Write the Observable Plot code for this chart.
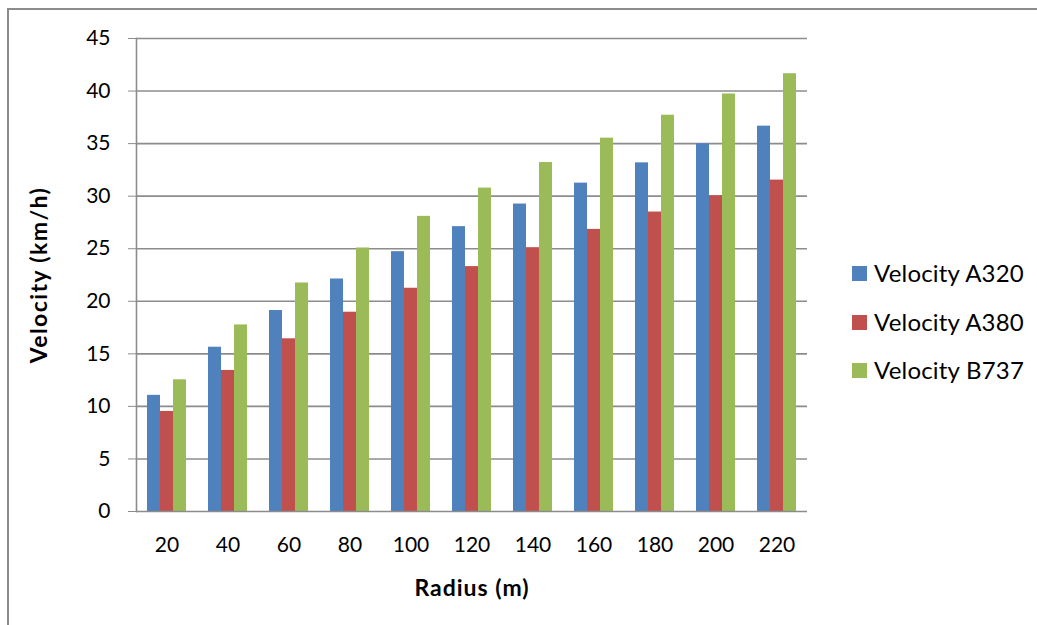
<!DOCTYPE html>
<html>
<head>
<meta charset="utf-8">
<script src="https://cdn.jsdelivr.net/npm/d3@7"></script>
<script src="https://cdn.jsdelivr.net/npm/@observablehq/plot@0.6"></script>
<style>
  html, body { margin: 0; padding: 0; background: #fff; overflow: hidden; }
  #wrap { position: relative; width: 1037px; height: 625px; font-family: Lato, "DejaVu Sans", sans-serif; }
  #border { position: absolute; left: 7px; top: 8px; right: -10px; bottom: -10px; border-top: 2px solid #8c8c8c; border-left: 2px solid #8c8c8c; pointer-events: none; }
  #legend { position: absolute; left: 852px; top: 0; }
  .item { position: absolute; left: 0; white-space: nowrap; font-size: 24px; letter-spacing: 0.2px; color: #000; }
  .sw { position: absolute; left: 0; width: 15px; height: 15px; }
  .lbl { position: absolute; left: 22px; line-height: 1; }
  g[aria-label="y-axis label"] text { font-weight: bold; font-size: 23px; letter-spacing: 1.4px; }
  g[aria-label="fx-axis label"] text { font-weight: bold; font-size: 23px; letter-spacing: 1px; }
</style>
</head>
<body>
<div id="wrap"></div>
<script>
const radii = [20, 40, 60, 80, 100, 120, 140, 160, 180, 200, 220];
const series = ["Velocity A320", "Velocity A380", "Velocity B737"];
const velA320 = [11.05, 15.63, 19.12, 22.12, 24.72, 27.1, 29.25, 31.24, 33.17, 34.98, 36.66];
const velA380 = [9.52, 13.42, 16.43, 18.96, 21.24, 23.3, 25.1, 26.84, 28.49, 30.04, 31.53];
const velB737 = [12.53, 17.75, 21.74, 25.07, 28.08, 30.77, 33.2, 35.52, 37.7, 39.72, 41.65];
const colors = ["#4F81BD", "#C0504D", "#9BBB59"];
const yTicks = [0, 5, 10, 15, 20, 25, 30, 35, 40, 45];

const seriesValues = [velA320, velA380, velB737];
const data = [];
radii.forEach((r, i) => {
  series.forEach((s, j) => data.push({radius: r, series: s, value: seriesValues[j][i]}));
});

const grid = "#8c8c8c";
const chart = Plot.plot({
  width: 1037,
  height: 625,
  marginLeft: 133,
  marginRight: 227,
  marginTop: 38,
  marginBottom: 114,
  style: {fontFamily: "Lato, 'DejaVu Sans', sans-serif", fontSize: "21px", color: "#000", background: "#fff", overflow: "visible"},
  fx: {domain: radii, padding: 0},
  x: {domain: series, axis: null, paddingInner: 0, paddingOuter: 0.8},
  y: {domain: [0, 45]},
  color: {domain: series, range: colors},
  marks: [
    Plot.ruleY(yTicks.slice(1), {stroke: grid, strokeWidth: 1.6}),
    Plot.barY(data, {fx: "radius", x: "series", y: "value", fill: "series"}),
    Plot.ruleY([0], {stroke: grid, strokeWidth: 1.6}),
    Plot.frame({anchor: "left", stroke: grid, strokeWidth: 1.6, fx: [radii[0]]}),
    Plot.axisY({ticks: yTicks, tickSize: 8, tickPadding: 18, stroke: grid, fill: "#000",
      label: "Velocity (km/h)", labelArrow: "none", labelAnchor: "center", labelOffset: 106}),
    Plot.axisFx({anchor: "bottom", tickSize: 0, tickPadding: 26, fill: "#000",
      label: "Radius (m)", labelArrow: "none", labelAnchor: "center", labelOffset: 84})
  ]
});

const wrap = document.getElementById("wrap");
wrap.appendChild(chart);

const border = document.createElement("div");
border.id = "border";
wrap.appendChild(border);

const legend = document.createElement("div");
legend.id = "legend";
const rowsY = [273, 322, 370];
series.forEach((s, j) => {
  const item = document.createElement("div");
  item.className = "item";
  item.style.top = rowsY[j] + "px";
  const sw = document.createElement("div");
  sw.className = "sw";
  sw.style.background = colors[j];
  sw.style.top = "-7px";
  const lbl = document.createElement("div");
  lbl.className = "lbl";
  lbl.style.top = "-12px";
  lbl.textContent = s;
  item.appendChild(sw);
  item.appendChild(lbl);
  legend.appendChild(item);
});
wrap.appendChild(legend);
</script>
</body>
</html>
